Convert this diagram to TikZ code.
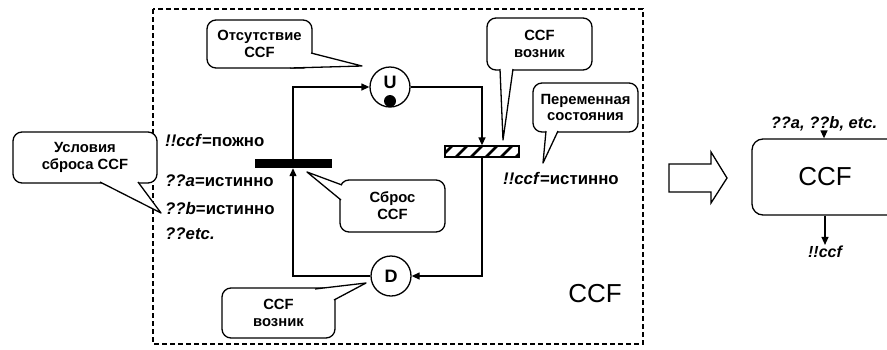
\documentclass[tikz,border=0pt]{standalone}
\usepackage{fontspec}
\setmainfont{Liberation Sans}
\usetikzlibrary{arrows.meta,positioning,calc}

% pointer of a speech bubble: base point, base point, tip
\newcommand{\bubbletail}[3]{%
  \fill[white] #1 -- #3 -- #2 -- cycle;
  \draw[line width=1.3pt,line join=round] #1 -- #3 -- #2;}

\begin{document}
\begin{tikzpicture}[x=1pt,y=-1pt,>={Triangle[length=8pt,width=7pt]},
  bubble/.style={draw,line width=1.3pt,rounded corners=9pt,fill=white,align=center,inner sep=2pt,
    font=\bfseries\fontsize{14.8}{16.8}\selectfont},
  place/.style={draw,circle,line width=1.3pt,minimum size=40pt,inner sep=0pt,
    font=\bfseries\fontsize{18}{18}\selectfont},
  flow/.style={line width=1.3pt},
  cond/.style={anchor=west,inner sep=0pt,font=\bfseries\fontsize{16.8}{18}\selectfont}]
\useasboundingbox (0,0) rectangle (887,349);

% subsystem frame
\draw[line width=1.3pt,dash pattern=on 5pt off 3pt] (153,9) rectangle (643,344);
\node[font=\fontsize{26}{26}\selectfont] (framelab) at (595,294) {CCF};

% places and transitions
\node[place] (up) at (390,87) {};
\node[font=\bfseries\fontsize{18}{18}\selectfont] (upsym) at (390,82) {U};
\node[circle,fill=black,inner sep=0pt,minimum size=12pt] (token) at (390,101) {};
\node[place] (down) at (391,276) {D};
\node[fill=black,minimum width=77pt,minimum height=9pt,inner sep=0pt] (reset) at (293,163.5) {};
\node[draw,line width=1.3pt,minimum width=74pt,minimum height=11pt,inner sep=0pt,
  path picture={\foreach \k in {0,...,5}
    \draw[line width=2.6pt] ([xshift=\k*15pt-4pt]path picture bounding box.south west) -- ++(11pt,11pt);}]
  (occur) at (482,151.5) {};

\draw[flow,->] (reset.north) |- (up);
\draw[flow,->] (up) -| (occur.north);
\draw[flow,->] (occur.south) |- (down);
\draw[flow,->] (down) -| (reset.south);

% guard and state texts
\node[cond] (falsecond) at (165,140) {\textit{!!ccf}=пожно};
\node[cond] (acond) at (165,181) {\textit{??a}=истинно};
\node[cond] (bcond) at (165,208) {\textit{??b}=истинно};
\node[cond] (etccond) at (165,234) {\textit{??etc.}};
\node[cond] (truecond) at (503,178) {\textit{!!ccf}=истинно};

% speech bubbles
\node[bubble,minimum width=105pt,minimum height=48pt] (absent) at (259.5,44) {Отсутствие\\CCF};
\bubbletail{(290,68)}{(311,53)}{(362,66)}
\node[bubble,minimum width=105pt,minimum height=52pt] (occurred) at (539.5,44) {CCF\\возник};
\bubbletail{(500,69)}{(513,69)}{(503,140)}
\node[bubble,minimum width=105pt,minimum height=49pt] (statevar) at (585.5,107.5) {Переменная\\состояния};
\bubbletail{(546,131)}{(558,131)}{(543,163)}
\node[bubble,minimum width=144pt,minimum height=51pt] (resetcond) at (85,157.5) {Условия\\сброса CCF};
\bubbletail{(100,182)}{(138,182)}{(161,213)}
\node[bubble,minimum width=105pt,minimum height=52pt] (resetnote) at (392.5,206) {Сброс\\CCF};
\bubbletail{(342,185)}{(341,200)}{(307,172)}
\node[bubble,minimum width=113pt,minimum height=50pt] (occurnote) at (278.5,313) {CCF\\возник};
\bubbletail{(315,289)}{(334,300)}{(366,283)}

% collapsed block
\draw[line width=1.3pt,line join=miter] (669,164) -- (711,164) -- (711,152) -- (727,178)
  -- (711,203) -- (711,192) -- (669,192) -- cycle;
\node[draw,line width=1.3pt,rounded corners=11pt,minimum width=146pt,minimum height=76pt,
  font=\fontsize{26}{26}\selectfont] (block) at (825,177) {CCF};
\node[font=\bfseries\itshape\fontsize{16.5}{18}\selectfont,inner sep=1pt] (blockin) at (824,124) {??a, ??b, etc.};
\node[font=\bfseries\itshape\fontsize{16}{18}\selectfont,inner sep=1pt] (blockout) at (825,252) {!!ccf};
\draw[flow,->] (blockin) -- (blockin |- block.north);
\draw[flow,->] (block.south -| blockout) -- (blockout);
\end{tikzpicture}
\end{document}
